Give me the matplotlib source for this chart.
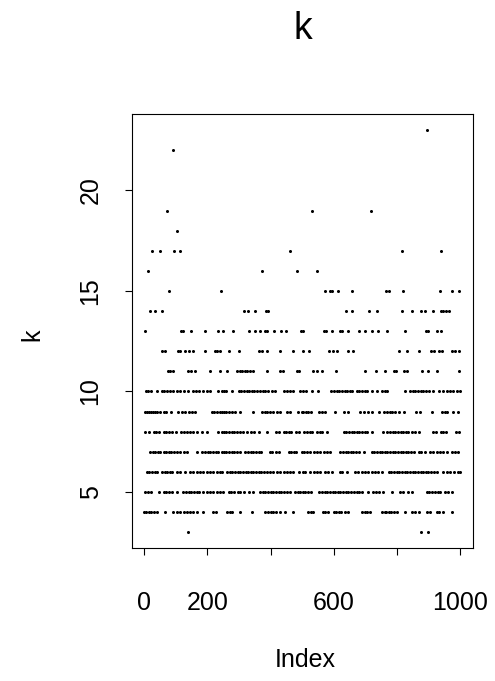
import matplotlib
matplotlib.use("Agg")
import matplotlib.pyplot as plt

plt.rcParams['font.family'] = ['Liberation Sans', 'DejaVu Sans']

# index positions (x) of points at each value of k
k3 = [139, 875, 899]
k4 = [1, 6, 15, 23, 32, 40, 67, 93, 104, 114, 125, 135, 146, 156, 167, 188, 217, 228,
      262, 271, 279, 304, 341, 383, 391, 400, 408, 417, 430, 446, 470,
      518, 527, 535, 565, 573, 581, 599, 608, 616, 624, 634, 646, 688, 697, 705, 713, 751, 762,
      766, 773, 782, 790, 799, 826, 847, 857, 868, 894, 904, 925, 934, 946, 973]
k5 = [4, 13, 21, 46, 62, 70, 79, 88, 104, 122, 132, 141, 149, 157, 166, 174, 188, 198, 209, 219, 230, 240, 251,
      268, 276, 284, 296, 304, 315, 331, 346, 367, 376, 384, 392, 401, 409, 418, 426, 434, 443, 451, 462, 477, 486, 494, 503,
      510, 518, 529, 554, 562, 571, 579, 588, 596, 604, 613, 621, 630, 638, 646, 655, 663, 672, 680, 688, 707, 725, 733, 742, 757,
      784, 810, 818, 836, 847, 894, 902, 911, 919, 928, 936, 952, 962, 973]
k6 = [10, 17, 25, 34, 42, 57, 65, 74, 82, 90, 104, 114, 130, 146, 156, 167, 177, 188, 198, 209, 219, 230, 240,
      245, 262, 271, 279, 288, 296, 304, 313, 321, 330, 338, 346, 355, 363, 371, 380, 388, 399, 409, 420, 430, 441, 451, 462, 472, 491, 502,
      510, 526, 536, 547, 557, 573, 583, 594, 620, 625, 641, 667, 678, 688, 699, 709, 720, 730, 741, 751,
      773, 782, 790, 799, 807, 815, 824, 832, 840, 849, 857, 866, 874, 882, 891, 899, 908, 916, 925, 946, 957, 967, 980, 994, 999]
k7 = [20, 27, 36, 44, 51, 62, 69, 78, 86, 95, 104, 114, 125, 135, 167, 183, 193, 202, 210, 218, 227, 235, 246,
      252, 260, 269, 277, 285, 294, 302, 320, 329, 337, 345, 354, 362, 370, 397, 405, 418, 428, 457, 465, 473, 482, 498,
      505, 515, 526, 536, 547, 557, 568, 578, 589, 620, 629, 637, 645, 654, 662, 670, 679, 694, 720, 728, 737, 745, 753, 762,
      769, 778, 786, 794, 803, 811, 820, 828, 836, 845, 853, 868, 876, 889, 904, 915, 925, 936, 946, 957, 973, 983, 994]
k8 = [4, 15, 30, 39, 48, 62, 70, 80, 90, 102, 118, 126, 135, 146, 156, 167, 183, 198, 235, 246,
      252, 260, 269, 277, 285, 294, 304, 313, 327, 338, 348, 365, 388, 418, 426, 441, 449, 458, 466, 481, 491, 506,
      515, 524, 532, 547, 555, 563, 578, 631, 639, 647, 656, 664, 673, 681, 689, 698, 706, 720, 757,
      769, 778, 786, 794, 803, 811, 820, 828, 836, 847, 857, 868, 915, 923, 938, 946, 954, 986, 995]
k9 = [2, 8, 15, 21, 27, 34, 41, 51, 62, 69, 85, 107, 120, 130, 141, 151, 162, 214, 222, 231, 239, 248,
      252, 260, 269, 277, 289, 304, 344, 373, 381, 389, 399, 409, 420, 430, 451, 462, 488, 498,
      503, 511, 519, 528, 552, 562, 571, 604, 631, 646, 683, 694, 709, 720, 743, 760,
      768, 776, 785, 793, 805, 821, 859, 873, 910, 941, 950, 958, 976, 993]
k10 = [6, 13, 23, 41, 57, 64, 72, 83, 93, 104, 114, 125, 139, 154, 164, 174, 185, 198, 209, 235, 248,
       252, 260, 278, 299, 307, 316, 324, 333, 341, 349, 358, 367, 376, 384, 393, 404, 415, 441, 451, 462, 472, 493, 504,
       512, 531, 550, 592, 600, 609, 617, 625, 634, 642, 651, 659, 673, 681, 689, 698, 706, 720, 736, 751, 762,
       768, 826, 842, 850, 858, 867, 875, 883, 892, 900, 913, 931, 944, 957, 967, 978, 990, 1000]
k11 = [75, 83, 91, 139, 149, 160, 208, 239,
       262, 294, 302, 311, 319, 327, 336, 346, 388, 430, 439, 483, 491,
       534, 547, 562, 608, 699, 732, 762,
       789, 797, 821, 831, 878, 899, 925, 997]
k12 = [57, 65, 107, 113, 130, 141, 156, 193, 224, 231, 241,
       268, 299, 365, 374, 388, 430, 472, 504,
       520, 586, 596, 610, 646, 662,
       805, 831, 868, 908, 917, 934, 942, 973, 983, 997]
k13 = [4, 118, 123, 149, 192, 235, 249, 282, 333, 352, 366, 381, 388, 410, 433, 450, 496, 504,
       569, 575, 593, 620, 625, 644, 680, 699, 720, 741, 768, 824, 891, 899, 925, 938]
k14 = [18, 36, 56, 315, 330, 352, 385, 392, 639, 657, 710, 738, 815, 847, 874, 888, 914, 939, 946, 956, 963]
k15 = [80, 243, 571, 587, 595, 612, 656, 765, 773, 818, 936, 974, 997]
k16 = [14, 373, 484, 548]
k17 = [25, 50, 96, 115, 460, 815, 939]
k18 = [105]
k19 = [73, 530, 717]
k22 = [93]
k23 = [895]

levels = [3, 4, 5, 6, 7, 8, 9, 10, 11, 12, 13, 14, 15, 16, 17, 18, 19, 22, 23]
positions = [k3, k4, k5, k6, k7, k8, k9, k10, k11, k12, k13, k14, k15, k16, k17, k18, k19, k22, k23]

x_ticks = [0, 200, 400, 600, 800, 1000]
x_ticklabels = ["0", "200", "", "600", "", "1000"]
y_ticks = [5, 10, 15, 20]

W, H = 495, 681
fig = plt.figure(figsize=(W / 100, H / 100), dpi=100)
left, right, top, bottom = 131.7, 473.0, 114.0, 548.3
ax = fig.add_axes([left / W, (H - bottom) / H, (right - left) / W, (bottom - top) / H])

for lev, xs in zip(levels, positions):
    ax.plot(xs, [lev] * len(xs), 'o', color='black', markersize=2.2, markeredgewidth=0)

ax.set_xlim(1 - 0.04 * 999, 1000 + 0.04 * 999)
ax.set_ylim(3 - 0.04 * 20, 23 + 0.04 * 20)

ax.set_xticks(x_ticks)
ax.set_xticklabels(x_ticklabels)
ax.set_yticks(y_ticks)
ax.set_yticklabels([str(t) for t in y_ticks], rotation=90, va='center')
ax.tick_params(axis='both', direction='out', length=5, width=0.8, labelsize=18, colors='black')
ax.tick_params(axis='x', pad=26)
ax.tick_params(axis='y', pad=16)
for s in ax.spines.values():
    s.set_linewidth(0.8)

fig.text(303 / W, 1 - 29 / H, "k", ha='center', va='center', fontsize=27)
fig.text(305 / W, 1 - 660 / H, "Index", ha='center', va='center', fontsize=18)
fig.text(32 / W, 1 - 335 / H, "k", ha='center', va='center', fontsize=18, rotation=90)

fig.savefig("out.png", dpi=100)
